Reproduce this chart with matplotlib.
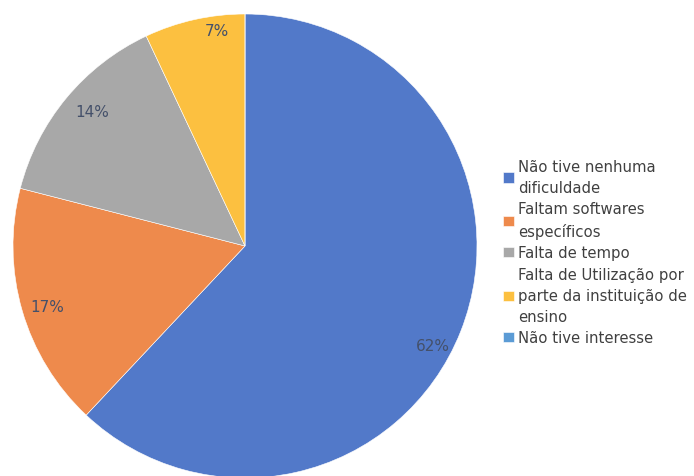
import numpy as np
import matplotlib.pyplot as plt

categorias = ["Não tive nenhuma\ndificuldade",
              "Faltam softwares\nespecíficos",
              "Falta de tempo",
              "Falta de Utilização por\nparte da instituição de\nensino",
              "Não tive interesse"]
valores = [62, 17, 14, 7, 0]
cores = ["#5279C9", "#EE8A4C", "#A8A8A8", "#FCC040", "#5B9BD5"]

# ajuste fino da posicao dos rotulos (graus em relacao ao meio da fatia, raio)
desvio_ang = [-6.4, 0.8, -1.8, -5.2, 0]
raio_rot = [0.915, 0.89, 0.875, 0.935, 0.9]


def rotulo(p):
    return "" if p < 0.5 else "{:.0f}%".format(p)


def main():
    fig = plt.figure(figsize=(6.94, 4.77), dpi=100)
    ax = fig.add_axes([13 / 694, -2 / 477, 464 / 694, 464 / 477])
    wedges, textos, pcts = ax.pie(valores, colors=cores, startangle=90, counterclock=False,
                                  autopct=rotulo, pctdistance=0.9,
                                  wedgeprops=dict(linewidth=0.4, edgecolor="white"),
                                  textprops=dict(color="#44506A", fontsize=11))
    for w, t, d, r in zip(wedges, pcts, desvio_ang, raio_rot):
        ang = np.deg2rad((w.theta1 + w.theta2) / 2 + d)
        t.set_position((r * np.cos(ang), r * np.sin(ang)))
    ax.set_xlim(-1, 1)
    ax.set_ylim(-1, 1)
    ax.set_aspect("equal")
    ax.axis("off")

    leg = fig.legend(wedges, categorias, loc="center left",
                     bbox_to_anchor=(496 / 694, 1 - 253 / 477),
                     frameon=False, fontsize=10.7, handlelength=0.72, handleheight=0.72,
                     handletextpad=0.28, labelspacing=0.42, borderpad=0)
    for t in leg.get_texts():
        t.set_color("#404040")
        t.set_linespacing(1.52)
    fig.savefig("out.png", dpi=100)


if __name__ == "__main__":
    main()
